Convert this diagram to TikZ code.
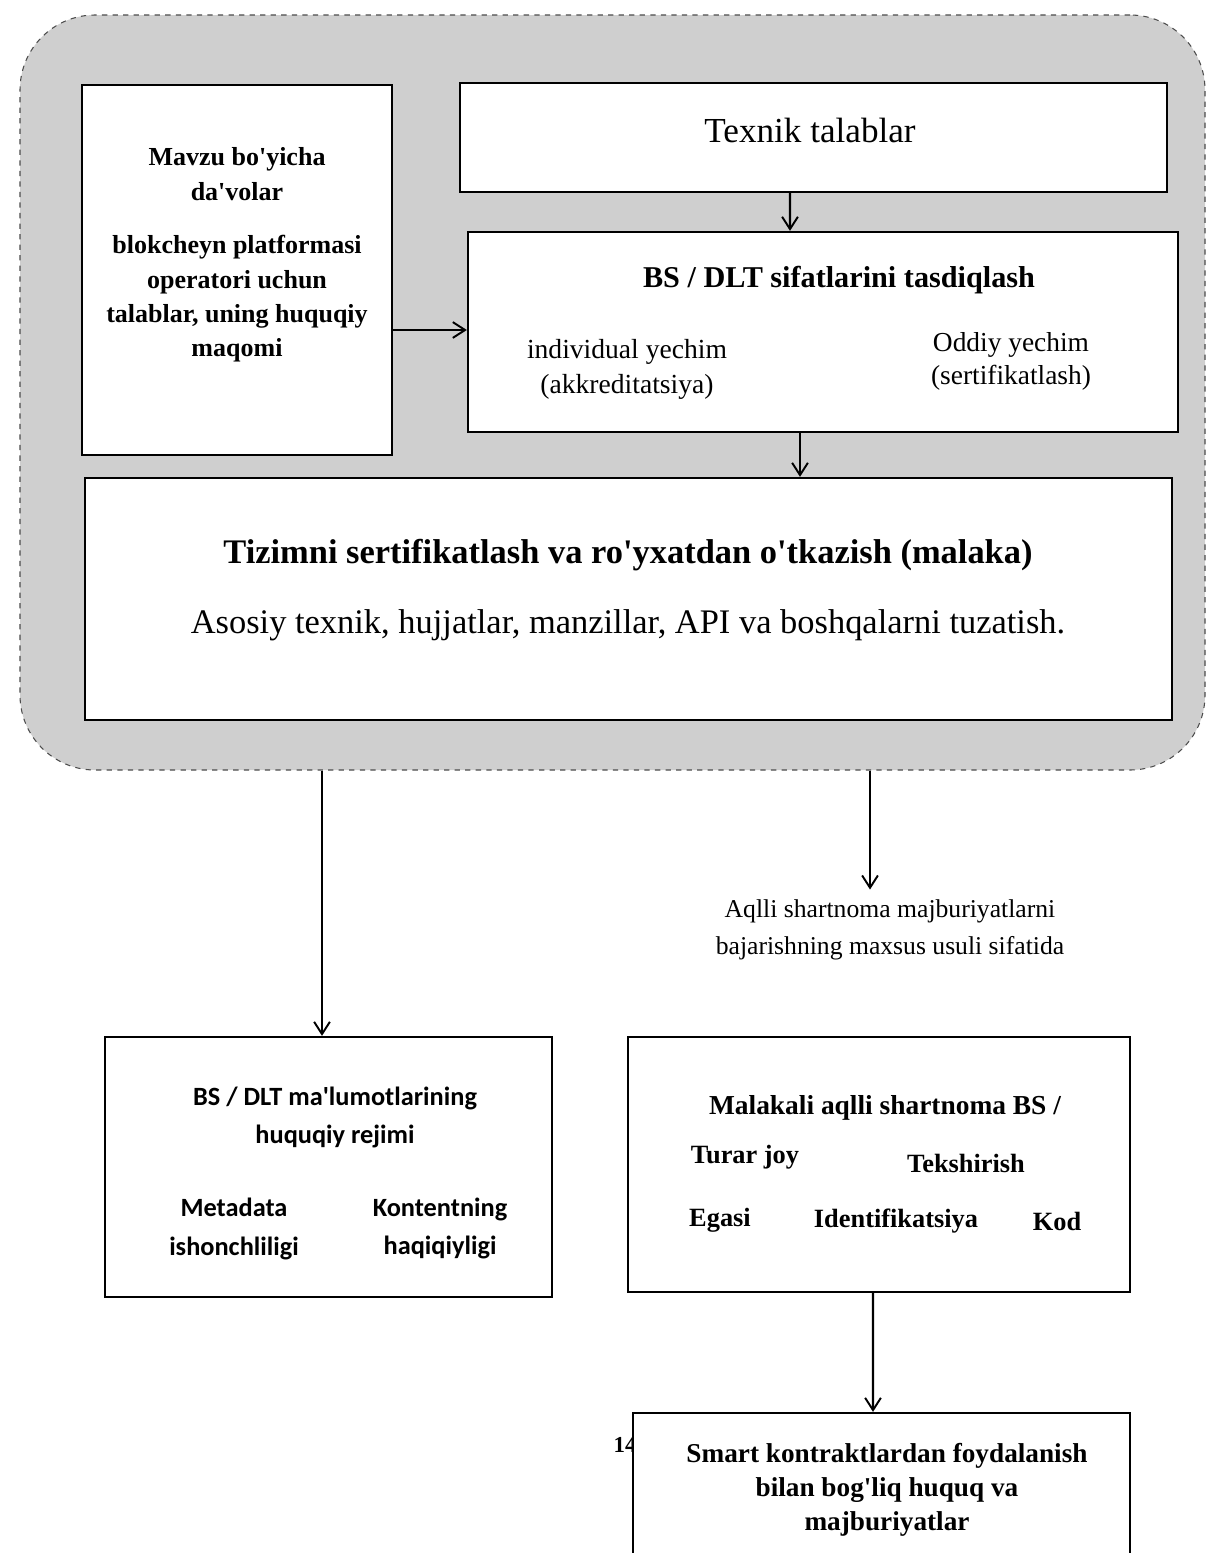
\documentclass[tikz,border=0pt]{standalone}
\usepackage{fontspec}
\setmainfont{Liberation Serif}[Ligatures=TeXOff]
\newfontfamily\calibrifont{Carlito}[Ligatures=TeXOff]
\usetikzlibrary{arrows.meta,positioning}
\tikzset{
  box/.style={draw=black, line width=1.3pt, fill=white, align=center, inner sep=0pt},
  arr/.style={line width=1.3pt, -{Straight Barb[length=7pt,width=9pt,line width=1.1pt]}},
  lbl/.style={align=center, inner sep=0pt}
}
\begin{document}
\begin{tikzpicture}
                    \useasboundingbox (0,0) rectangle (24.14,-31.06);
                    % grey frame round the upper part
                    \node[draw=black!70, dashed, line width=0.6pt, fill=black!19, rounded corners=1.5cm,
                          minimum width=23.7cm, minimum height=15.1cm] (frame) at (12.25,-7.85) {};
                    \node[box, minimum width=6.2cm, minimum height=7.4cm] (mavzu) at (4.74,-5.4) {};
                    \node[lbl, font=\bfseries\fontsize{14.8}{19.5}\selectfont] (mavzutxt) at (4.74,-5.1)
                          {Mavzu bo'yicha\\da'volar\\[0.75em] blokcheyn platformasi\\operatori uchun\\talablar, uning huquqiy\\maqomi};
                    \node[box, minimum width=14.14cm, minimum height=2.18cm] (texnik) at (16.27,-2.75) {};
                    \node[lbl, font=\fontsize{20}{24}\selectfont] (texniktxt) at (16.2,-2.6) {Texnik talablar};
                    \node[box, minimum width=14.2cm, minimum height=4.0cm] (bsq) at (16.46,-6.64) {};
                    \node[lbl, font=\bfseries\fontsize{17.2}{20}\selectfont] (bsqtitle) at (16.78,-5.6) {BS / DLT sifatlarini tasdiqlash};
                    \node[lbl, font=\fontsize{15.7}{20}\selectfont] (indiv) at (12.54,-7.39) {individual yechim\\(akkreditatsiya)};
                    \node[lbl, font=\fontsize{15.6}{19}\selectfont] (oddiy) at (20.22,-7.23) {Oddiy yechim\\(sertifikatlash)};
                    \node[box, minimum width=21.74cm, minimum height=4.84cm] (tizim) at (12.57,-11.98) {};
                    \node[lbl, font=\bfseries\fontsize{19.6}{23}\selectfont] (tizimtitle) at (12.56,-11.1)
                          {Tizimni sertifikatlash va ro'yxatdan o'tkazish (malaka)};
                    \node[lbl, font=\fontsize{19.6}{23}\selectfont] (tizimsub) at (12.56,-12.5)
                          {Asosiy texnik, hujjatlar, manzillar, API va boshqalarni tuzatish.};
                    % lower part
                    \node[lbl, font=\fontsize{14.6}{21}\selectfont] (aqlli) at (17.8,-18.6)
                          {Aqlli shartnoma majburiyatlarni\\bajarishning maxsus usuli sifatida};
                    \node[box, minimum width=8.94cm, minimum height=5.2cm] (legal) at (6.57,-23.34) {};
                    \node[lbl, font=\calibrifont\bfseries\fontsize{15}{22}\selectfont] (legaltitle) at (6.7,-22.35)
                          {BS / DLT ma'lumotlarining\\huquqiy rejimi};
                    \node[lbl, font=\calibrifont\bfseries\fontsize{15}{22}\selectfont] (metadata) at (4.68,-24.58)
                          {Metadata\\ishonchliligi};
                    \node[lbl, font=\calibrifont\bfseries\fontsize{15}{22}\selectfont] (kontent) at (8.8,-24.57)
                          {Kontentning\\haqiqiyligi};
                    \node[box, minimum width=10.04cm, minimum height=5.1cm] (malakali) at (17.58,-23.29) {};
                    \node[lbl, font=\bfseries\fontsize{15.6}{18}\selectfont] (maltitle) at (17.7,-22.16) {Malakali aqlli shartnoma BS /};
                    \node[lbl, font=\bfseries\fontsize{15}{18}\selectfont] (turar) at (14.9,-23.14) {Turar joy};
                    \node[lbl, font=\bfseries\fontsize{15}{18}\selectfont] (tekshir) at (19.32,-23.26) {Tekshirish};
                    \node[lbl, font=\bfseries\fontsize{15}{18}\selectfont] (egasi) at (14.4,-24.4) {Egasi};
                    \node[lbl, font=\bfseries\fontsize{15}{18}\selectfont] (identif) at (17.92,-24.42) {Identifikatsiya};
                    \node[lbl, font=\bfseries\fontsize{15}{18}\selectfont] (kod) at (21.14,-24.42) {Kod};
                    \node[lbl, font=\bfseries\fontsize{13}{15}\selectfont] (pagenum) at (12.5,-28.9) {14};
                    \node[box, minimum width=9.94cm, minimum height=4cm] (smart) at (17.63,-30.26) {};
                    \node[lbl, font=\bfseries\fontsize{15.5}{19.5}\selectfont] (smarttxt) at (17.74,-29.8)
                          {Smart kontraktlardan foydalanish\\bilan bog'liq huquq va\\majburiyatlar};
                    % connectors
                    \draw[arr] ([xshift=-0.47cm]texnik.south) -- ([xshift=-0.66cm]bsq.north);
                    \draw[arr] ([xshift=-0.46cm]bsq.south) -- ([xshift=-0.46cm]bsq.south |- tizim.north);
                    \draw[arr] (mavzu.east |- 0,-6.6) -- (bsq.west |- 0,-6.6);
                    \draw[arr] ([xshift=-0.13cm]frame.south -| legal.north) -- ([xshift=-0.13cm]legal.north);
                    \draw[arr] ([xshift=-0.4cm]frame.south -| aqlli.north) -- ([xshift=-0.4cm,yshift=0.2cm]aqlli.north);
                    \draw[arr] ([xshift=-0.12cm]malakali.south) -- ([xshift=-0.17cm]smart.north);
                \end{tikzpicture}
\end{document}
